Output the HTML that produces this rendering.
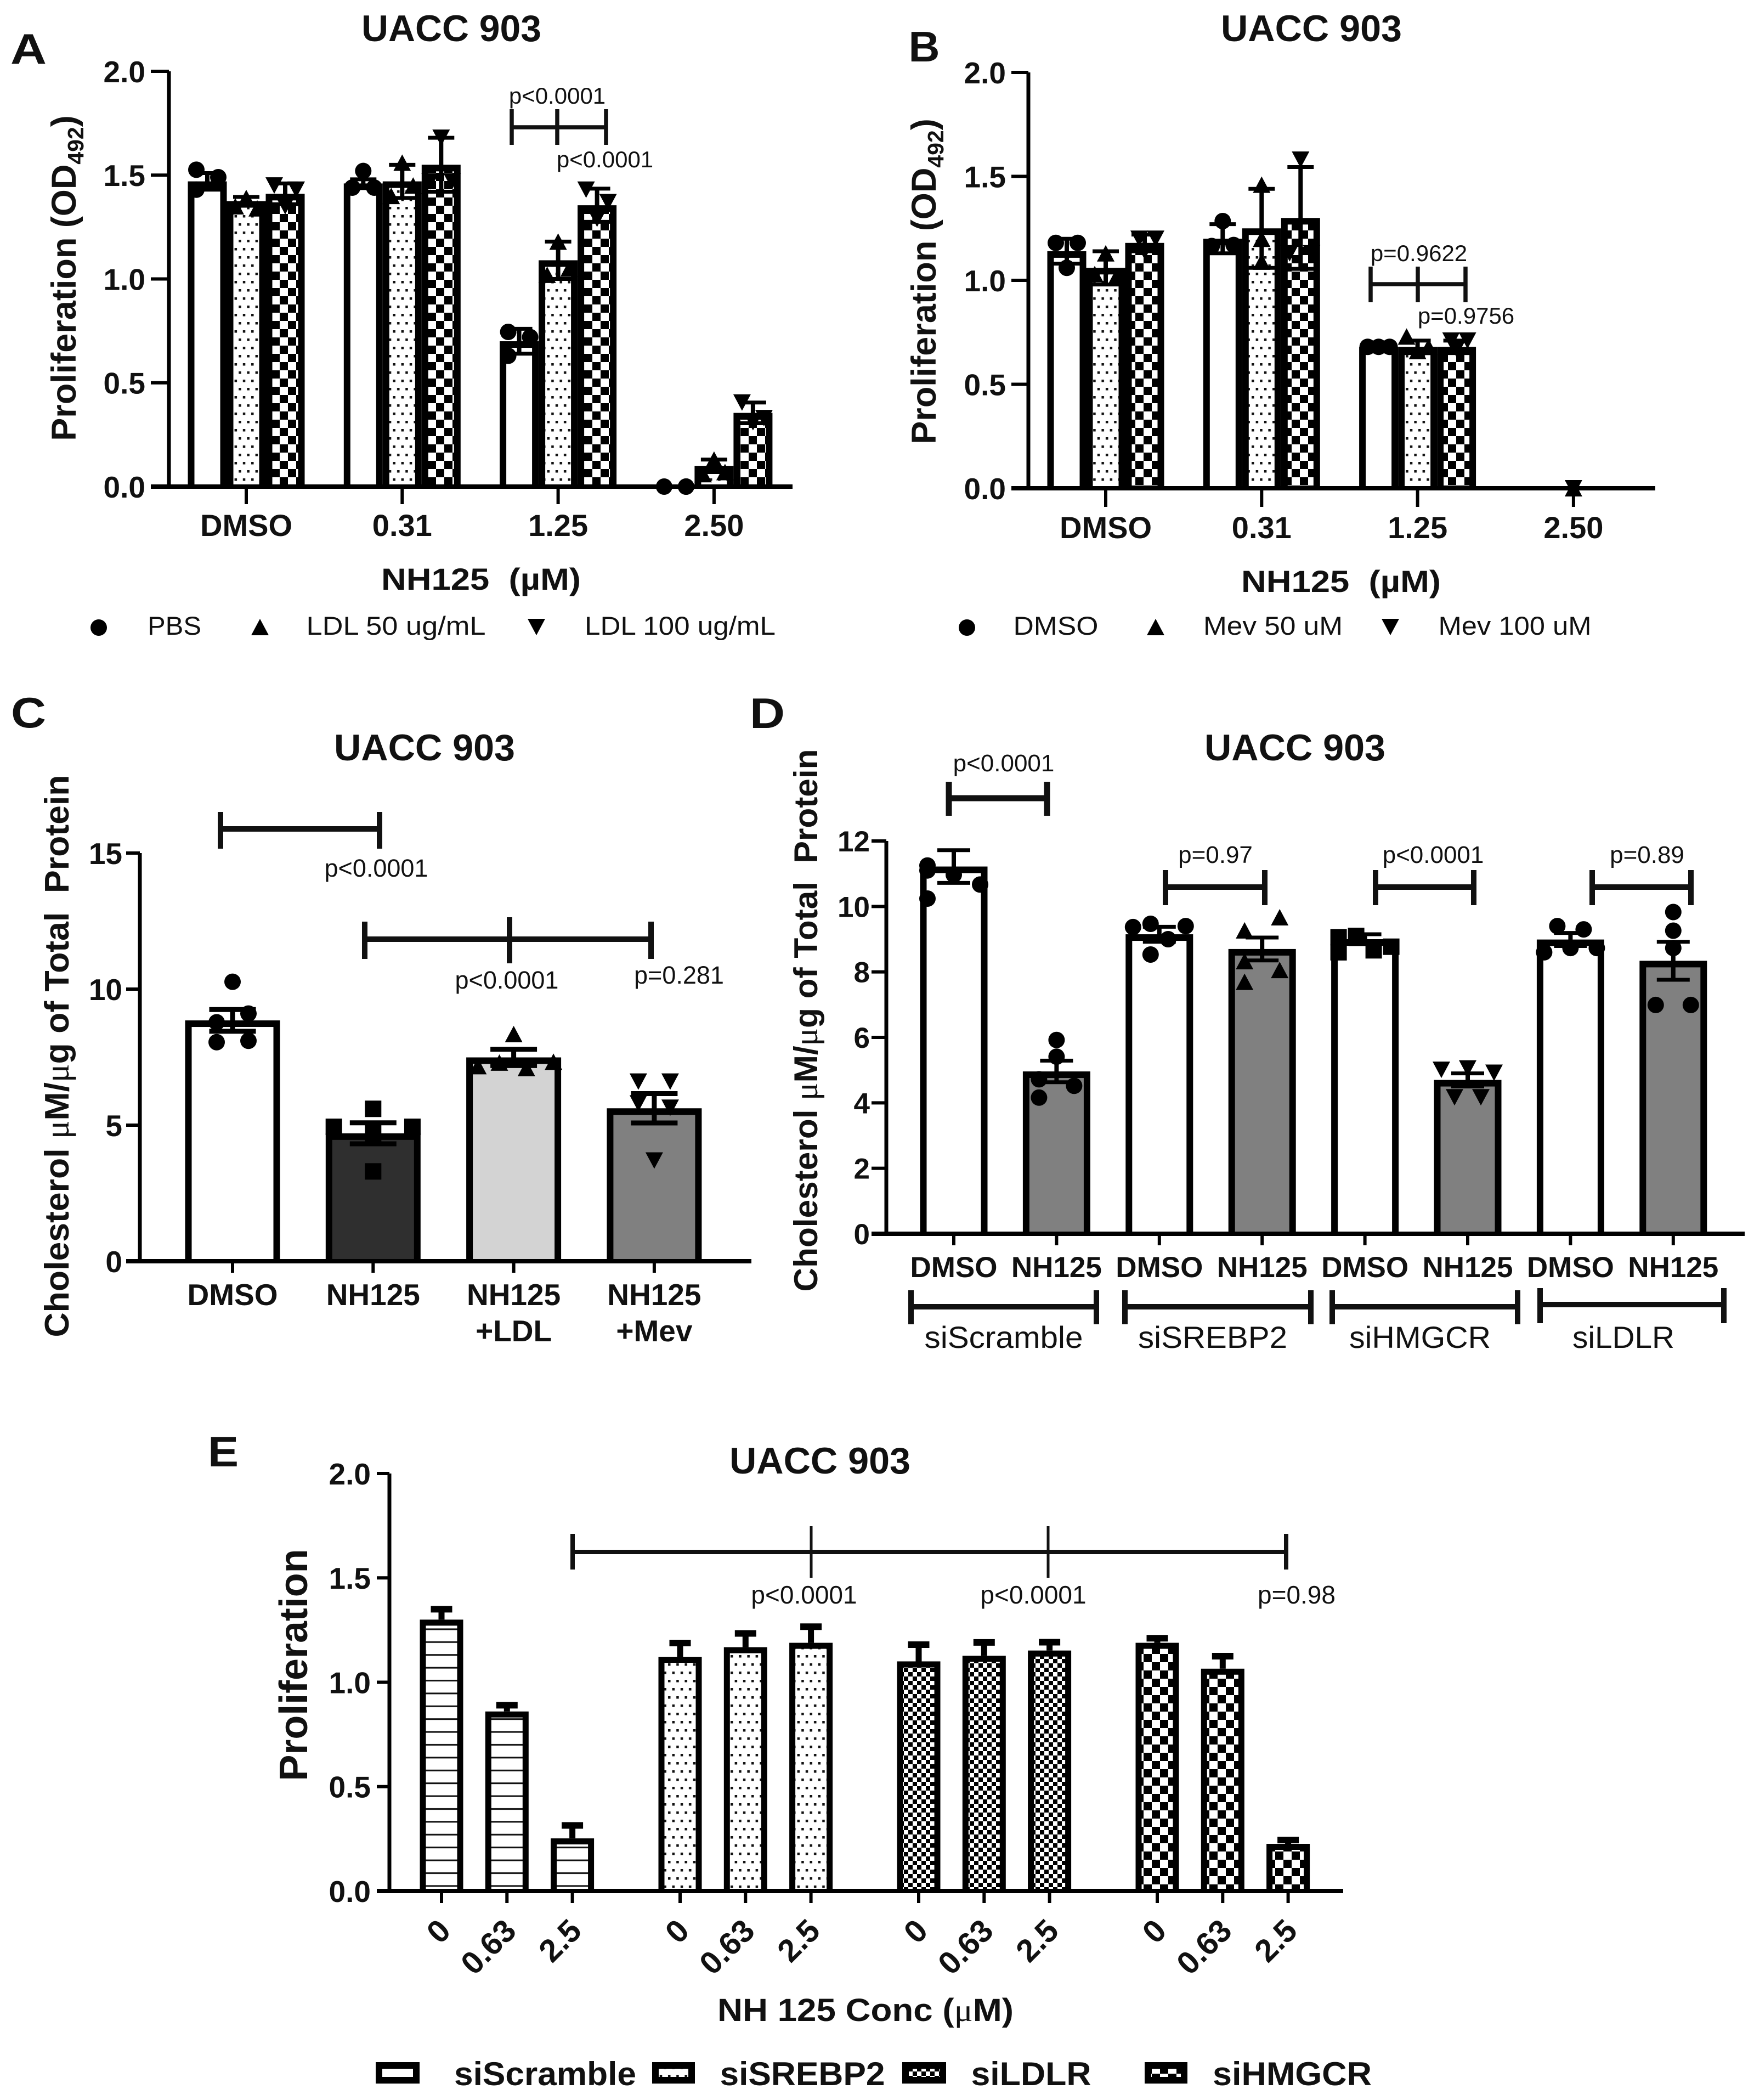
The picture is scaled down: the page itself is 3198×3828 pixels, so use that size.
<!DOCTYPE html>
<html lang="en">
<head>
<meta charset="utf-8">
<title>UACC 903 panels</title>
<style>
html,body{margin:0;padding:0;background:#fff;}
svg{display:block;}
text{font-family:"Liberation Sans",sans-serif;fill:#111;white-space:pre;}
.b{font-weight:700;}
.mu{font-family:"Liberation Serif",serif;font-weight:400;}
</style>
</head>
<body>
<svg id="figure" xmlns="http://www.w3.org/2000/svg" width="3198" height="3828" viewBox="0 0 3198 3828">
<defs>
<pattern id="dots" patternUnits="userSpaceOnUse" width="15.2" height="30"><rect width="15.2" height="30" fill="#fff"/><rect x="2" y="2" width="4.5" height="4.5" fill="#111"/><rect x="9.6" y="17" width="4.5" height="4.5" fill="#111"/></pattern>
<pattern id="checker" patternUnits="userSpaceOnUse" width="30" height="30"><rect width="30" height="30" fill="#fff"/><rect width="15" height="15" fill="#000"/><rect x="15" y="15" width="15" height="15" fill="#000"/></pattern>
<pattern id="fine" patternUnits="userSpaceOnUse" width="16" height="16"><rect width="16" height="16" fill="#fff"/><rect width="8" height="8" fill="#000"/><rect x="8" y="8" width="8" height="8" fill="#000"/></pattern>
<pattern id="lines" patternUnits="userSpaceOnUse" width="23.4" height="23.4"><rect width="23.4" height="23.4" fill="#fff"/><rect y="20" width="23.4" height="3" fill="#111"/></pattern>
</defs>
<rect width="3198" height="3828" fill="#fff"/>

<g id="panel-a">
<text class="b" x="52" y="116" font-size="78" text-anchor="middle" textLength="66" lengthAdjust="spacingAndGlyphs">A</text>
<text class="b" x="823" y="75" font-size="68" text-anchor="middle" textLength="328" lengthAdjust="spacingAndGlyphs">UACC 903</text>
<text class="b" transform="translate(138 507) rotate(-90)" font-size="63" text-anchor="middle">Proliferation (OD<tspan font-size="41" dy="14">492</tspan><tspan dy="-14">)</tspan></text>
<text class="b" x="877" y="1075" font-size="56" text-anchor="middle" textLength="364" lengthAdjust="spacingAndGlyphs">NH125  (µM)</text>
<path d="M933 232H1105M933 199V264M1105 199V264M1016 199V264" stroke="#111" stroke-width="7.5" fill="none"/>
<text x="1016" y="189" font-size="42" text-anchor="middle">p&lt;0.0001</text>
<text x="1103" y="305" font-size="42" text-anchor="middle">p&lt;0.0001</text>
<circle cx="180" cy="1144" r="15" fill="#000"/>
<text x="318" y="1157" font-size="47" text-anchor="middle" textLength="98" lengthAdjust="spacingAndGlyphs">PBS</text>
<polygon points="458,1158 490,1158 474,1128" fill="#000"/>
<text x="722" y="1157" font-size="47" text-anchor="middle" textLength="327" lengthAdjust="spacingAndGlyphs">LDL 50 ug/mL</text>
<polygon points="962,1128 994,1128 978,1158" fill="#000"/>
<text x="1240" y="1157" font-size="47" text-anchor="middle" textLength="348" lengthAdjust="spacingAndGlyphs">LDL 100 ug/mL</text>
</g>

<g id="panel-b">
<text class="b" x="1685" y="112" font-size="78" text-anchor="middle" textLength="57" lengthAdjust="spacingAndGlyphs">B</text>
<text class="b" x="2391" y="75" font-size="68" text-anchor="middle" textLength="330" lengthAdjust="spacingAndGlyphs">UACC 903</text>
<text class="b" transform="translate(1706 513) rotate(-90)" font-size="63" text-anchor="middle">Proliferation (OD<tspan font-size="41" dy="14">492</tspan><tspan dy="-14">)</tspan></text>
<text class="b" x="2445" y="1079" font-size="56" text-anchor="middle" textLength="364" lengthAdjust="spacingAndGlyphs">NH125  (µM)</text>
<path d="M2499 518H2672M2499 486V551M2672 486V551M2585 486V551" stroke="#111" stroke-width="7.5" fill="none"/>
<text x="2587" y="476" font-size="42" text-anchor="middle">p=0.9622</text>
<text x="2673" y="590" font-size="42" text-anchor="middle">p=0.9756</text>
<circle cx="1763" cy="1144" r="15" fill="#000"/>
<text x="1925" y="1157" font-size="47" text-anchor="middle" textLength="155" lengthAdjust="spacingAndGlyphs">DMSO</text>
<polygon points="2091,1158 2123,1158 2107,1128" fill="#000"/>
<text x="2321" y="1157" font-size="47" text-anchor="middle" textLength="254" lengthAdjust="spacingAndGlyphs">Mev 50 uM</text>
<polygon points="2519,1128 2551,1128 2535,1158" fill="#000"/>
<text x="2762" y="1157" font-size="47" text-anchor="middle" textLength="279" lengthAdjust="spacingAndGlyphs">Mev 100 uM</text>
</g>

<g id="panel-c">
<text class="b" x="52" y="1326" font-size="78" text-anchor="middle" textLength="64" lengthAdjust="spacingAndGlyphs">C</text>
<text class="b" x="774" y="1386" font-size="68" text-anchor="middle" textLength="330" lengthAdjust="spacingAndGlyphs">UACC 903</text>
<text class="b" transform="translate(125 1925) rotate(-90)" font-size="62" text-anchor="middle" textLength="1025" lengthAdjust="spacingAndGlyphs">Cholesterol <tspan class="mu">μ</tspan>M/<tspan class="mu">μ</tspan>g of Total  Protein</text>
<path d="M402 1511H692M402 1480V1547M692 1480V1547" stroke="#111" stroke-width="10" fill="none"/>
<path d="M665 1712H1187M665 1680V1748M1187 1680V1748M929 1672V1756" stroke="#111" stroke-width="10" fill="none"/>
<text x="686" y="1598" font-size="45" text-anchor="middle">p&lt;0.0001</text>
<text x="924" y="1802" font-size="45" text-anchor="middle">p&lt;0.0001</text>
<text x="1238" y="1793" font-size="45" text-anchor="middle">p=0.281</text>
</g>

<g id="panel-d">
<text class="b" x="1399" y="1327" font-size="78" text-anchor="middle" textLength="64" lengthAdjust="spacingAndGlyphs">D</text>
<text class="b" x="2361" y="1386" font-size="68" text-anchor="middle" textLength="330" lengthAdjust="spacingAndGlyphs">UACC 903</text>
<text class="b" transform="translate(1490 1860) rotate(-90)" font-size="60" text-anchor="middle" textLength="989" lengthAdjust="spacingAndGlyphs">Cholesterol <tspan class="mu">μ</tspan>M/<tspan class="mu">μ</tspan>g of Total  Protein</text>
<path d="M1730 1455H1909M1730 1425V1487M1909 1425V1487" stroke="#111" stroke-width="11" fill="none"/>
<path d="M2125 1617H2306M2125 1586V1650M2306 1586V1650" stroke="#111" stroke-width="10" fill="none"/>
<path d="M2508 1617H2687M2508 1586V1650M2687 1586V1650" stroke="#111" stroke-width="10" fill="none"/>
<path d="M2903 1617H3083M2903 1586V1650M3083 1586V1650" stroke="#111" stroke-width="10" fill="none"/>
<text x="1830" y="1406" font-size="44" text-anchor="middle">p&lt;0.0001</text>
<text x="2216" y="1573" font-size="44" text-anchor="middle">p=0.97</text>
<text x="2613" y="1573" font-size="44" text-anchor="middle">p&lt;0.0001</text>
<text x="3003" y="1573" font-size="44" text-anchor="middle">p=0.89</text>
<path d="M1661 2382H1999M1661 2352V2414M1999 2352V2414" stroke="#111" stroke-width="10" fill="none"/>
<path d="M2051 2382H2390M2051 2352V2414M2390 2352V2414" stroke="#111" stroke-width="10" fill="none"/>
<path d="M2429 2382H2767M2429 2352V2414M2767 2352V2414" stroke="#111" stroke-width="10" fill="none"/>
<path d="M2808 2378H3143M2808 2348V2412M3143 2348V2412" stroke="#111" stroke-width="10" fill="none"/>
<text x="1830" y="2457" font-size="56" text-anchor="middle" textLength="289" lengthAdjust="spacingAndGlyphs">siScramble</text>
<text x="2211" y="2457" font-size="56" text-anchor="middle" textLength="272" lengthAdjust="spacingAndGlyphs">siSREBP2</text>
<text x="2589" y="2457" font-size="56" text-anchor="middle" textLength="258" lengthAdjust="spacingAndGlyphs">siHMGCR</text>
<text x="2960" y="2457" font-size="56" text-anchor="middle" textLength="186" lengthAdjust="spacingAndGlyphs">siLDLR</text>
</g>

<g id="panel-e">
<text class="b" x="407" y="2673" font-size="78" text-anchor="middle" textLength="56" lengthAdjust="spacingAndGlyphs">E</text>
<text class="b" x="1495" y="2686" font-size="68" text-anchor="middle" textLength="330" lengthAdjust="spacingAndGlyphs">UACC 903</text>
<text class="b" transform="translate(560 3035) rotate(-90)" font-size="72" text-anchor="middle" textLength="423" lengthAdjust="spacingAndGlyphs">Proliferation</text>
<text class="b" x="1578" y="3684" font-size="58" text-anchor="middle" textLength="540" lengthAdjust="spacingAndGlyphs">NH 125 Conc (<tspan class="mu">μ</tspan>M)</text>
<path d="M1044 2829H2345M1044 2796V2861M2345 2796V2861" stroke="#111" stroke-width="8" fill="none"/>
<path d="M1479 2782V2876M1911 2782V2876" stroke="#111" stroke-width="5" fill="none"/>
<text x="1466" y="2923" font-size="46" text-anchor="middle">p&lt;0.0001</text>
<text x="1884" y="2923" font-size="46" text-anchor="middle">p&lt;0.0001</text>
<text x="2364" y="2923" font-size="46" text-anchor="middle">p=0.98</text>
<rect x="691" y="3765" width="68" height="27" fill="url(#lines)" stroke="#000" stroke-width="12"/>
<text class="b" x="994" y="3801" font-size="60" text-anchor="middle" textLength="332" lengthAdjust="spacingAndGlyphs">siScramble</text>
<rect x="1195" y="3765" width="66" height="27" fill="url(#dots)" stroke="#000" stroke-width="12"/>
<text class="b" x="1463" y="3801" font-size="60" text-anchor="middle" textLength="301" lengthAdjust="spacingAndGlyphs">siSREBP2</text>
<rect x="1651" y="3765" width="68" height="27" fill="url(#fine)" stroke="#000" stroke-width="12"/>
<text class="b" x="1880" y="3801" font-size="60" text-anchor="middle" textLength="219" lengthAdjust="spacingAndGlyphs">siLDLR</text>
<rect x="2093" y="3765" width="66" height="27" fill="url(#checker)" stroke="#000" stroke-width="12"/>
<text class="b" x="2356" y="3801" font-size="60" text-anchor="middle" textLength="290" lengthAdjust="spacingAndGlyphs">siHMGCR</text>
</g>
<g id="marks"></g>
</svg>

<script>
/* ---------- Panel A data ---------- */
const categoriesAB = ['DMSO', '0.31', '1.25', '2.50'];
const yTicksProlif = [0, 0.5, 1, 1.5, 2];
const yTickLabelsProlif = ['0.0', '0.5', '1.0', '1.5', '2.0'];
const meanPbsA = [1.47, 1.46, 0.70, 0];
const meanLdl50A = [1.375, 1.47, 1.09, 0.10];
const meanLdl100A = [1.41, 1.55, 1.355, 0.355];
const errPbsA = [0.04, 0.02, 0.06, 0];
const errLdl50A = [0.02, 0.08, 0.09, 0.03];
const errLdl100A = [0.05, 0.13, 0.08, 0.05];
const pointsPbsA = [[1.526, 1.49, 1.43], [1.52, 1.44, 1.44], [0.745, 0.72, 0.63], [0, 0, 0]];
const pointsLdl50A = [[1.39, 1.35, 1.34], [1.56, 1.40, 1.45], [1.18, 1.02, 1.05], [0.13, 0.06, 0.07]];
const pointsLdl100A = [[1.45, 1.43, 1.35], [1.68, 1.47, 1.47], [1.43, 1.37, 1.29], [0.405, 0.33, 0.31]];
const slotsPbsA = [[-1, 1, -1], [0, -1, 1], [-1, 1, -1], [-1, 1, 1]];
const slotsLdl50A = [[0, -1, 1], [0, -1, 1], [0, -1, 1], [0, -1, 1]];
const slotsLdl100A = [[-1, 1, 0], [0, -1, 1], [-1, 1, 0], [-1, 1, 0]];

/* ---------- Panel B data ---------- */
const meanDmsoB = [1.14, 1.20, 0.68, 0];
const meanMev50B = [1.06, 1.25, 0.68, 0];
const meanMev100B = [1.18, 1.30, 0.68, 0];
const errDmsoB = [0.06, 0.07, 0.01, 0];
const errMev50B = [0.08, 0.19, 0.03, 0];
const errMev100B = [0.04, 0.245, 0.03, 0];
const pointsDmsoB = [[1.18, 1.18, 1.06], [1.285, 1.165, 1.17], [0.68, 0.68, 0.68], []];
const pointsMev50B = [[1.13, 1.03, 1.02], [1.46, 1.2, 1.09], [0.73, 0.68, 0.66], []];
const pointsMev100B = [[1.2, 1.2, 1.14], [1.58, 1.13, 1.13], [0.71, 0.71, 0.67], []];
const slotsDmsoB = [[-1, 1, 0], [0, -1, 1], [-1, 0, 1], []];
const slotsMev50B = [[0, -1, 1], [0, 0, 0], [-1, 1, 0], []];
const slotsMev100B = [[-0.5, 1, 0], [0, -1, 1], [-0.5, 1, 0], []];
const overlapUpB = [0];
const overlapDownB = [0];

/* ---------- Panel C data ---------- */
const categoriesC = [['DMSO'], ['NH125'], ['NH125', '+LDL'], ['NH125', '+Mev']];
const yTicksC = [0, 5, 10, 15];
const yTickLabelsC = ['0', '5', '10', '15'];
const meansC = [8.85, 4.7, 7.49, 5.62];
const errsC = [0.4, 0.385, 0.3, 0.54];
const pointsC = [[10.27, 8.78, 9.1, 8.05, 8.1], [5.6, 3.3, 4.7, 4.94, 4.94], [8.35, 7.17, 7.3, 7.1, 7.33], [6.6, 6.6, 5.8, 5.64, 3.7]];
const slotsC = [[0, -1, 1, -1, 1], [0, 0, 0, -2.47, 2.47], [0, -2.25, -0.9, 0.8, 2.5], [-1, 1, -1, 1, 0]];
const fillsC = ['#ffffff', '#2f2f2f', '#d3d3d3', '#808080'];
const shapesC = ['circle', 'square', 'up', 'down'];

/* ---------- Panel D data ---------- */
const categoriesD = ['DMSO', 'NH125', 'DMSO', 'NH125', 'DMSO', 'NH125', 'DMSO', 'NH125'];
const yTicksD = [0, 2, 4, 6, 8, 10, 12];
const yTickLabelsD = ['0', '2', '4', '6', '8', '10', '12'];
const meansD = [11.22, 4.96, 9.15, 8.7, 9.0, 4.7, 8.99, 8.34];
const errsD = [0.5, 0.33, 0.23, 0.35, 0.15, 0.2, 0.2, 0.58];
const pointsD = [
  [11.25, 10.97, 10.67, 10.24, 11.1],
  [5.92, 5.41, 4.72, 4.52, 4.16],
  [9.37, 9.47, 9.4, 9.0, 8.53],
  [9.67, 9.27, 8.33, 8.06, 7.7],
  [9.06, 9.1, 8.6, 8.66, 8.77],
  [5.01, 5.05, 4.92, 4.17, 4.17],
  [9.4, 9.3, 8.6, 8.73, 8.73],
  [9.83, 9.26, 8.73, 6.99, 6.99]
];
const slotsD = [
  [-3, 0, 3, -3, -3],
  [0, 0, -2, 2, -2],
  [-3, -1, 3, 1, -1],
  [2, -2, -2, 2, -2],
  [-3, -1, -3, 1, 3],
  [-3, 0, 3, -1.5, 1.5],
  [-1.5, 1.5, -3, 0, 3],
  [0, 0, 0, -2, 2]
];
const fillsD = ['#ffffff', '#808080', '#ffffff', '#808080', '#ffffff', '#808080', '#ffffff', '#808080'];
const shapesD = ['circle', 'circle', 'circle', 'up', 'square', 'down', 'circle', 'circle'];

/* ---------- Panel E data ---------- */
const categoriesE = ['0', '0.63', '2.5'];
const siScrambleE = [1.30, 0.86, 0.252];
const siSrebp2E = [1.122, 1.168, 1.189];
const siLdlrE = [1.10, 1.127, 1.152];
const siHmgcrE = [1.189, 1.065, 0.226];
const errScrambleE = [0.05, 0.03, 0.062];
const errSrebp2E = [0.066, 0.066, 0.077];
const errLdlrE = [0.08, 0.064, 0.04];
const errHmgcrE = [0.022, 0.06, 0.018];

/* ---------- Drawing helpers ---------- */
const NS = 'http://www.w3.org/2000/svg';
const root = document.getElementById('marks');

function mk(tag, attrs, parent) {
  const e = document.createElementNS(NS, tag);
  for (const k in attrs) e.setAttribute(k, attrs[k]);
  (parent || root).appendChild(e);
  return e;
}
function linearY(zeroPx, maxPx, maxVal) {
  return function (v) { return zeroPx - (v / maxVal) * (zeroPx - maxPx); };
}
function drawBar(y, cx, v, w, sw, fill) {
  const top = y(v), base = y(0);
  const outer = mk('rect', { x: cx - w / 2, y: top, width: w, height: Math.max(0, base - top), fill: '#000' });
  
  
  if (base - top > sw) {
    const inner = mk('rect', { x: cx - w / 2 + sw, y: top + sw, width: w - 2 * sw, height: base - top - sw, fill: fill });
    
    
  }
}
function drawErr(y, cx, v, e, capW, capT, stemT, upperOnly) {
  if (e <= 0) return;
  const hi = y(v + e), lo = upperOnly ? y(v) : y(v - e);
  const d = 'M' + cx + ' ' + hi + 'V' + lo;
  const stem = mk('path', { d: d, stroke: '#000', 'stroke-width': stemT, fill: 'none' });
  
  
  const top = mk('path', { d: 'M' + (cx - capW / 2) + ' ' + hi + 'H' + (cx + capW / 2), stroke: '#000', 'stroke-width': capT, fill: 'none' });
  
  
  if (!upperOnly) {
    const bot = mk('path', { d: 'M' + (cx - capW / 2) + ' ' + lo + 'H' + (cx + capW / 2), stroke: '#000', 'stroke-width': capT, fill: 'none' });
    
    
  }
}
function drawMarker(shape, x, y) {
  let m;
  if (shape === 'circle') m = mk('circle', { cx: x, cy: y, r: 15, fill: '#000' });
  else if (shape === 'square') m = mk('rect', { x: x - 15, y: y - 15, width: 30, height: 30, fill: '#000' });
  else if (shape === 'up') m = mk('polygon', { points: (x - 16) + ',' + (y + 15) + ' ' + (x + 16) + ',' + (y + 15) + ' ' + x + ',' + (y - 15), fill: '#000' });
  else m = mk('polygon', { points: (x - 16) + ',' + (y - 15) + ' ' + (x + 16) + ',' + (y - 15) + ' ' + x + ',' + (y + 15), fill: '#000' });
  
  
}
function drawAxes(y, cfg, ticks, labels) {
  const ya = mk('path', { d: 'M' + cfg.axisX + ' ' + y(ticks[ticks.length - 1]) + 'V' + y(0), stroke: '#000', 'stroke-width': 7, fill: 'none' });
  
  
  const xa = mk('path', { d: 'M' + cfg.xStart + ' ' + y(0) + 'H' + cfg.xEnd, stroke: '#000', 'stroke-width': 8, fill: 'none' });
  
  
  ticks.forEach(function (t, i) {
    const tick = mk('path', { d: 'M' + cfg.xStart + ' ' + y(t) + 'H' + cfg.axisX, stroke: '#000', 'stroke-width': 6, fill: 'none' });
    
    
    const lab = mk('text', { x: cfg.labelX, y: y(t) + cfg.yFont * 0.36, 'font-size': cfg.yFont, 'text-anchor': 'end', 'class': 'b' });
    
    
    lab.textContent = labels[i];
  });
}
function drawXTick(y, x, len) {
  const t = mk('path', { d: 'M' + x + ' ' + y(0) + 'V' + (y(0) + len), stroke: '#000', 'stroke-width': 6, fill: 'none' });
  
  
}
function drawCatLabel(x, yPx, text, font) {
  const l = mk('text', { x: x, y: yPx, 'font-size': font, 'text-anchor': 'middle', 'class': 'b' });
  
  
  l.textContent = text;
}

/* ---------- Panels A and B: grouped bars with scatter ---------- */
function drawGrouped(y, cfg, series) {
  const xCat = function (i) { return cfg.x0 + i * cfg.dx; };
  const xBar = function (i, s) { return xCat(i) + (s - 1) * cfg.barStep; };
  series.forEach(function (s, si) {
    s.mean.forEach(function (v, i) { drawBar(y, xBar(i, si), v, 71, 12, s.fill); });
  });
  drawAxes(y, cfg, yTicksProlif, yTickLabelsProlif);
  categoriesAB.forEach(function (c, i) {
    drawXTick(y, xCat(i), cfg.tickLen);
    drawCatLabel(xCat(i), cfg.catY, c, 56);
  });
  series.forEach(function (s, si) {
    s.mean.forEach(function (v, i) {
      drawErr(y, xBar(i, si), v, s.err[i], 48, 7, 8, false);
      s.points[i].forEach(function (p, k) {
        drawMarker(s.shape, xBar(i, si) + s.slots[i][k] * 20, y(p));
      });
    });
  });
}
const fillsAB = ['#ffffff', 'url(#dots)', 'url(#checker)'];
const yA = linearY(887, 130, 2);
drawGrouped(yA, { x0: 449, dx: 284.3, barStep: 71, axisX: 308, xStart: 275, xEnd: 1445, labelX: 265, yFont: 55, tickLen: 32, catY: 977 }, [
  { mean: meanPbsA, err: errPbsA, points: pointsPbsA, slots: slotsPbsA, fill: fillsAB[0], shape: 'circle' },
  { mean: meanLdl50A, err: errLdl50A, points: pointsLdl50A, slots: slotsLdl50A, fill: fillsAB[1], shape: 'up' },
  { mean: meanLdl100A, err: errLdl100A, points: pointsLdl100A, slots: slotsLdl100A, fill: fillsAB[2], shape: 'down' }
]);
const yB = linearY(890, 132, 2);
const cfgB = { x0: 2016, dx: 284.3, barStep: 71, axisX: 1875, xStart: 1844, xEnd: 3018, labelX: 1834, yFont: 55, tickLen: 34, catY: 981 };
drawGrouped(yB, cfgB, [
  { mean: meanDmsoB, err: errDmsoB, points: pointsDmsoB, slots: slotsDmsoB, fill: fillsAB[0], shape: 'circle' },
  { mean: meanMev50B, err: errMev50B, points: pointsMev50B, slots: slotsMev50B, fill: fillsAB[1], shape: 'up' },
  { mean: meanMev100B, err: errMev100B, points: pointsMev100B, slots: slotsMev100B, fill: fillsAB[2], shape: 'down' }
]);
overlapUpB.forEach(function (v) { drawMarker('up', cfgB.x0 + 3 * cfgB.dx, yB(v)); });
overlapDownB.forEach(function (v) { drawMarker('down', cfgB.x0 + 3 * cfgB.dx, yB(v)); });

/* ---------- Panels C and D: single bars with scatter ---------- */
function drawFlat(y, cfg, means, errs, points, slots, fills, shapes, ticks, tickLabels) {
  const xBar = function (i) { return cfg.x0 + i * cfg.dx; };
  means.forEach(function (v, i) { drawBar(y, xBar(i), v, cfg.barW, 12, fills[i]); });
  drawAxes(y, cfg, ticks, tickLabels);
  means.forEach(function (v, i) {
    drawXTick(y, xBar(i), cfg.tickLen);
    drawErr(y, xBar(i), v, errs[i], cfg.capW, cfg.capT, cfg.stemT, false);
    points[i].forEach(function (p, k) {
      drawMarker(shapes[i], xBar(i) + slots[i][k] * cfg.slot, y(p));
    });
  });
}
const yC = linearY(2299, 1555, 15);
const cfgC = { x0: 424, dx: 256.3, barW: 173, axisX: 255, xStart: 230, xEnd: 1370, labelX: 223, yFont: 55, tickLen: 21, capW: 85, capT: 9, stemT: 9, slot: 29 };
drawFlat(yC, cfgC, meansC, errsC, pointsC, slotsC, fillsC, shapesC, yTicksC, yTickLabelsC);
categoriesC.forEach(function (lines, i) {
  lines.forEach(function (t, k) { drawCatLabel(cfgC.x0 + i * cfgC.dx, 2379 + k * 66, t, 55); });
});
const yD = linearY(2249, 1533, 12);
const cfgD = { x0: 1739, dx: 187.4, barW: 123, axisX: 1616, xStart: 1589, xEnd: 3181, labelX: 1586, yFont: 53, tickLen: 21, capW: 60, capT: 7, stemT: 8, slot: 16 };
drawFlat(yD, cfgD, meansD, errsD, pointsD, slotsD, fillsD, shapesD, yTicksD, yTickLabelsD);
categoriesD.forEach(function (c, i) { drawCatLabel(cfgD.x0 + i * cfgD.dx, 2328, c, 53); });

/* ---------- Panel E ---------- */
const yE = linearY(3447, 2686, 2);
const xE = function (g, i) { return 805 + 435 * g + 119.3 * i; };
const seriesE = [
  { mean: siScrambleE, err: errScrambleE, fill: 'url(#lines)' },
  { mean: siSrebp2E, err: errSrebp2E, fill: 'url(#dots)' },
  { mean: siLdlrE, err: errLdlrE, fill: 'url(#fine)' },
  { mean: siHmgcrE, err: errHmgcrE, fill: 'url(#checker)' }
];
seriesE.forEach(function (s, g) {
  s.mean.forEach(function (v, i) { drawBar(yE, xE(g, i), v, 79, 11, s.fill); });
});
drawAxes(yE, { axisX: 710, xStart: 687, xEnd: 2449, labelX: 676, yFont: 55 }, yTicksProlif, yTickLabelsProlif);
seriesE.forEach(function (s, g) {
  s.mean.forEach(function (v, i) {
    drawXTick(yE, xE(g, i), 22);
    drawErr(yE, xE(g, i), v, s.err[i], 39, 12, 11, true);
    const ax = xE(g, i) + 20, ay = yE(0) + 76;
    const l = mk('text', { x: ax, y: ay, 'font-size': 58, 'text-anchor': 'end', 'class': 'b', transform: 'rotate(-45 ' + ax + ' ' + ay + ')' });
    
    
    l.textContent = categoriesE[i];
  });
});
</script>
</body>
</html>
